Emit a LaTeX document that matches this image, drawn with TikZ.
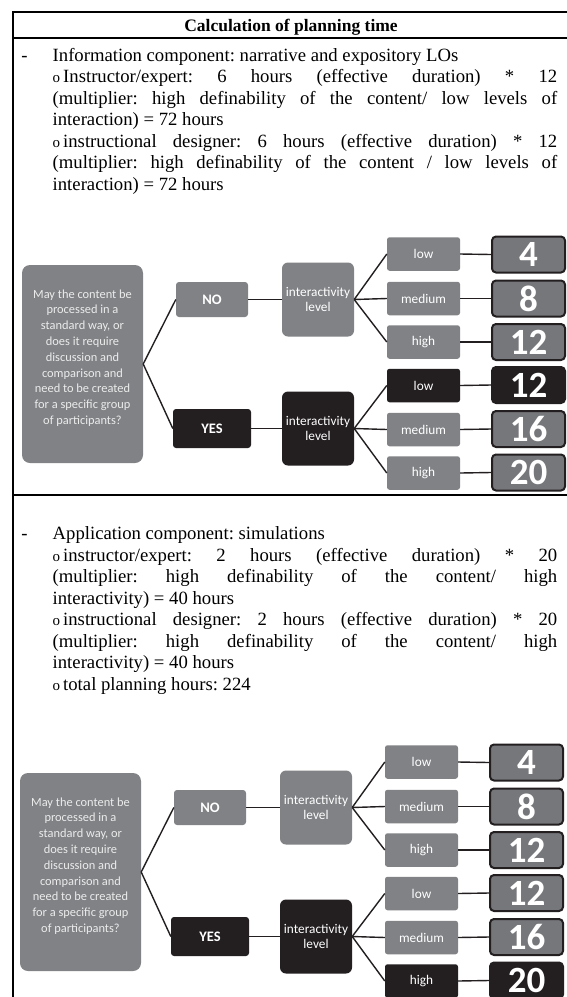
\documentclass[tikz,border=0pt]{standalone}
\usepackage{fontspec}
\setmainfont{Liberation Serif}
\newfontfamily\calib{Carlito}
\definecolor{boxgray}{RGB}{128,130,133}
\definecolor{numgray}{RGB}{118,119,123}
\definecolor{boxdark}{RGB}{35,31,32}
\definecolor{qtext}{RGB}{236,236,236}
\newcommand{\bul}{{\fontsize{15}{15}\selectfont o}\hspace{3pt}}
\tikzset{
  rule/.style={draw=black, line width=1.3pt},
  bodytext/.style={inner sep=0pt, text width=504.5pt, align=justify, anchor=north west,
    font=\fontsize{18.7}{21.5}\selectfont},
  fc/.style={inner sep=0pt, text=white, align=center, font=\calib\fontsize{13.3}{15.5}\selectfont},
  gfill/.style={fc, fill=boxgray},
  dfill/.style={fc, fill=boxdark},
  qbox/.style={gfill, rounded corners=8pt, minimum width=121pt, minimum height=198pt},
  qtxt/.style={inner sep=0pt, align=center, text=qtext, font=\calib\fontsize{12.4}{15.8}\selectfont},
  ansbox/.style={rounded corners=3pt, font=\calib\bfseries\fontsize{14.5}{15}\selectfont},
  ilbox/.style={rounded corners=6pt, minimum width=72pt, minimum height=74pt},
  lvl/.style={rounded corners=2.5pt, minimum width=73pt, minimum height=33.5pt},
  numbox/.style={fc, draw=boxdark, line width=2pt, rounded corners=4pt, minimum width=73pt,
    minimum height=36pt, font=\calib\bfseries\fontsize{37}{37}\selectfont},
  conn/.style={draw=boxdark, line width=1.4pt},
}
\begin{document}
\begin{tikzpicture}[x=1pt,y=-1pt]
\useasboundingbox (0,0) rectangle (567,997);
\fill[white] (0,0) rectangle (567,997);
% table rules
\draw[rule] (13,12) -- (567,12);
\draw[rule] (13,38) -- (567,38);
\draw[rule] (13,495) -- (567,495);
\draw[rule] (13,11.35) -- (13,1000);
% header
\node[inner sep=0pt, anchor=base, font=\bfseries\fontsize{17.5}{21}\selectfont] (hdr) at (291,31) {Calculation of planning time};
% row 1 text
\node[bodytext] (r1) at (52.5,46) {\setlength{\parindent}{0pt}\tolerance=10000\hyphenpenalty=10000\frenchspacing
\strut\llap{-\hspace{25pt}}Information component: narrative and expository LOs\par
\bul Instructor/expert: 6 hours (effective duration) * 12\linebreak
(multiplier: high definability of the content/ low levels of\linebreak
interaction) = 72 hours\par
\bul instructional designer: 6 hours (effective duration) * 12\linebreak
(multiplier: high definability of the content / low levels of\linebreak
interaction) = 72 hours\par};
% row 2 text
\node[bodytext] (r2) at (52.5,524.5) {\setlength{\parindent}{0pt}\tolerance=10000\hyphenpenalty=10000\frenchspacing
\strut\llap{-\hspace{25pt}}Application component: simulations\par
\bul instructor/expert: 2 hours (effective duration) * 20\linebreak
(multiplier: high definability of the content/ high\linebreak
interactivity) = 40 hours\par
\bul instructional designer: 2 hours (effective duration) * 20\linebreak
(multiplier: high definability of the content/ high\linebreak
interactivity) = 40 hours\par
\bul total planning hours: 224\par};
% chart 1
\node[qbox] (aq) at (82.5,364) {};
\node[qtxt, yshift=6pt] (aqt) at (aq) {May the content be\\processed in a\\standard way, or\\does it require\\discussion and\\comparison and\\need to be created\\for a specific group\\of participants?};
\node[gfill, ansbox, minimum width=72pt, minimum height=35pt] (ano) at (212,299.5) {NO};
\node[dfill, ansbox, minimum width=78pt, minimum height=39pt] (ayes) at (212,428.5) {YES};
\node[gfill, ilbox] (ail1) at (318,299.5) {interactivity\\level};
\node[dfill, ilbox] (ail2) at (318,428.5) {interactivity\\level};
\node[gfill, lvl] (al1) at (423.5,254) {low};
\node[gfill, lvl] (am1) at (423.5,298.5) {medium};
\node[gfill, lvl] (ah1) at (423.5,342) {high};
\node[dfill, lvl] (al2) at (423.5,385.5) {low};
\node[gfill, lvl] (am2) at (423.5,429.5) {medium};
\node[gfill, lvl] (ah2) at (423.5,473) {high};
\node[numbox, fill=numgray] (an1) at (528.5,254.5) {4};
\node[numbox, fill=numgray] (an2) at (528.5,298.5) {8};
\node[numbox, fill=numgray] (an3) at (528.5,342) {12};
\node[numbox, fill=boxdark] (an4) at (528.5,385) {12};
\node[numbox, fill=numgray] (an5) at (528.5,429) {16};
\node[numbox, fill=numgray] (an6) at (528.5,472.5) {20};
\draw[conn] (aq.east) -- (ano.west);
\draw[conn] (aq.east) -- (ayes.west);
\draw[conn] (ano.east) -- (ail1.west);
\draw[conn] (ayes.east) -- (ail2.west);
\draw[conn] (ail1.east) -- (al1.west);
\draw[conn] (ail1.east) -- (am1.west);
\draw[conn] (ail1.east) -- (ah1.west);
\draw[conn] (ail2.east) -- (al2.west);
\draw[conn] (ail2.east) -- (am2.west);
\draw[conn] (ail2.east) -- (ah2.west);
\draw[conn] (al1.east) -- (an1.west);
\draw[conn] (am1.east) -- (an2.west);
\draw[conn] (ah1.east) -- (an3.west);
\draw[conn] (al2.east) -- (an4.west);
\draw[conn] (am2.east) -- (an5.west);
\draw[conn] (ah2.east) -- (an6.west);
% chart 2
\begin{scope}[shift={(-2,508)}]
\node[qbox] (bq) at (82.5,364) {};
\node[qtxt, yshift=6pt] (bqt) at (bq) {May the content be\\processed in a\\standard way, or\\does it require\\discussion and\\comparison and\\need to be created\\for a specific group\\of participants?};
\node[gfill, ansbox, minimum width=72pt, minimum height=35pt] (bno) at (212,299.5) {NO};
\node[dfill, ansbox, minimum width=78pt, minimum height=39pt] (byes) at (212,428.5) {YES};
\node[gfill, ilbox] (bil1) at (318,299.5) {interactivity\\level};
\node[dfill, ilbox] (bil2) at (318,428.5) {interactivity\\level};
\node[gfill, lvl] (bl1) at (423.5,254) {low};
\node[gfill, lvl] (bm1) at (423.5,298.5) {medium};
\node[gfill, lvl] (bh1) at (423.5,342) {high};
\node[gfill, lvl] (bl2) at (423.5,385.5) {low};
\node[gfill, lvl] (bm2) at (423.5,429.5) {medium};
\node[dfill, lvl] (bh2) at (423.5,473) {high};
\node[numbox, fill=numgray] (bn1) at (528.5,254.5) {4};
\node[numbox, fill=numgray] (bn2) at (528.5,298.5) {8};
\node[numbox, fill=numgray] (bn3) at (528.5,342) {12};
\node[numbox, fill=numgray] (bn4) at (528.5,385) {12};
\node[numbox, fill=numgray] (bn5) at (528.5,429) {16};
\node[numbox, fill=boxdark] (bn6) at (528.5,472.5) {20};
\draw[conn] (bq.east) -- (bno.west);
\draw[conn] (bq.east) -- (byes.west);
\draw[conn] (bno.east) -- (bil1.west);
\draw[conn] (byes.east) -- (bil2.west);
\draw[conn] (bil1.east) -- (bl1.west);
\draw[conn] (bil1.east) -- (bm1.west);
\draw[conn] (bil1.east) -- (bh1.west);
\draw[conn] (bil2.east) -- (bl2.west);
\draw[conn] (bil2.east) -- (bm2.west);
\draw[conn] (bil2.east) -- (bh2.west);
\draw[conn] (bl1.east) -- (bn1.west);
\draw[conn] (bm1.east) -- (bn2.west);
\draw[conn] (bh1.east) -- (bn3.west);
\draw[conn] (bl2.east) -- (bn4.west);
\draw[conn] (bm2.east) -- (bn5.west);
\draw[conn] (bh2.east) -- (bn6.west);
\end{scope}
\end{tikzpicture}
\end{document}
